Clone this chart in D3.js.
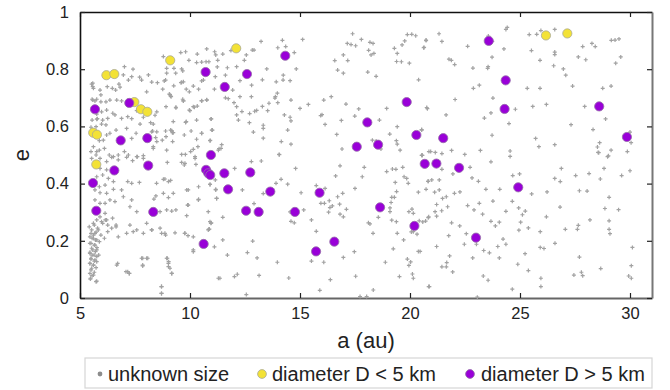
<!DOCTYPE html>
<html><head><meta charset="utf-8">
<script src="https://cdn.jsdelivr.net/npm/d3@7"></script>
<style>
html,body{margin:0;padding:0;background:#fff;}
svg{display:block;font-family:"Liberation Sans",Arial,sans-serif;}
</style></head>
<body>
<svg id="chart" width="670" height="390"></svg>
<script>
// ---- DATA ----
const xTicks = [5, 10, 15, 20, 25, 30];
const yTicks = [0, 0.2, 0.4, 0.6, 0.8, 1];
const xLabel = "a (au)";
const yLabel = "e";
const legendLabels = ["unknown size", "diameter D < 5 km", "diameter D > 5 km"];

// small bodies, diameter D < 5 km  [a, e]
const smallBodies = [
  [6.2,0.779],[6.56,0.783],[9.1,0.831],[7.47,0.685],[7.77,0.66],[8.06,0.651],
  [5.6,0.578],[5.77,0.571],[5.74,0.467],[12.1,0.873],[26.18,0.918],[27.15,0.925]
];

// large bodies, diameter D > 5 km  [a, e]
const largeBodies = [
  [5.68,0.66],[7.24,0.682],[6.85,0.551],[8.06,0.559],[10.71,0.79],[10.95,0.5],
  [5.59,0.402],[6.56,0.446],[8.1,0.463],[5.74,0.305],[8.33,0.301],[10.62,0.189],
  [10.73,0.448],[10.83,0.436],[10.92,0.43],[12.59,0.783],[14.33,0.847],[11.58,0.738],
  [19.85,0.685],[18.06,0.614],[20.29,0.57],[17.58,0.529],[18.55,0.536],[11.56,0.436],
  [12.74,0.439],[11.73,0.38],[13.65,0.372],[12.55,0.305],[13.12,0.301],[14.77,0.301],
  [15.89,0.368],[16.56,0.197],[15.73,0.163],[18.64,0.317],[20.2,0.252],[20.67,0.469],
  [23.58,0.899],[24.35,0.761],[24.3,0.661],[28.6,0.67],[29.86,0.563],[21.51,0.559],
  [21.2,0.47],[22.23,0.455],[24.92,0.387],[23.0,0.211]
];

// unknown size  [a, e]
const unknownSize = [
  // a 10-21, upper half
  [10.76,0.871],[11.12,0.861],[11.17,0.85],[11.49,0.853],[11.86,0.865],[12.83,0.867],[12.91,0.867],
  [13.23,0.897],[14.2,0.901],[14.35,0.879],[13.99,0.875],[14.74,0.858],[15.12,0.904],[10.53,0.825],
  [10.73,0.826],[10.86,0.826],[11.26,0.831],[12.47,0.831],[12.56,0.85],[11.24,0.808],[11.7,0.805],
  [12.12,0.809],[13.49,0.801],[14.83,0.801],[11.15,0.774],[11.61,0.779],[10.53,0.759],[10.61,0.762],
  [12.27,0.76],[13.29,0.763],[13.92,0.756],[14.23,0.762],[14.24,0.779],[14.55,0.76],[11.11,0.73],
  [11.94,0.727],[12.8,0.744],[10.53,0.69],[10.76,0.693],[11.61,0.7],[11.74,0.697],[12.27,0.704],
  [12.79,0.704],[13.97,0.716],[13.88,0.704],[13.86,0.699],[14.59,0.692],[12.0,0.683],[12.12,0.669],
  [12.36,0.652],[12.71,0.645],[12.94,0.653],[13.03,0.656],[13.29,0.67],[13.53,0.655],[13.59,0.681],
  [13.99,0.683],[14.29,0.64],[14.55,0.632],[15.0,0.663],[15.38,0.677],[12.12,0.64],[12.2,0.622],
  [12.7,0.613],[10.97,0.626],[11.02,0.587],[12.88,0.58],[13.33,0.604],[13.33,0.593],[14.44,0.587],
  [14.59,0.619],[10.53,0.576],[10.92,0.551],[11.44,0.536],[11.32,0.522],[13.33,0.559],[14.15,0.547],
  [14.59,0.538],[14.05,0.502],
  [17.39,0.924],[17.15,0.89],[17.32,0.886],[17.53,0.882],[17.79,0.904],[18.18,0.894],[18.32,0.89],
  [16.97,0.85],[17.17,0.83],[16.58,0.83],[16.71,0.797],[16.97,0.786],[18.12,0.866],[18.23,0.85],
  [18.36,0.855],[18.08,0.79],[18.46,0.775],[19.29,0.873],[19.42,0.855],[19.64,0.885],[19.76,0.899],
  [19.88,0.921],[20.08,0.922],[20.26,0.917],[20.73,0.902],[20.64,0.876],[19.39,0.827],[19.61,0.826],
  [19.97,0.821],[20.39,0.763],[20.76,0.666],[16.08,0.692],[16.42,0.704],[17.09,0.678],[17.67,0.661],
  [17.49,0.636],[18.61,0.622],[18.94,0.663],[16.0,0.641],[15.94,0.638],[16.14,0.607],[16.88,0.621],
  [16.67,0.572],[19.08,0.573],[19.42,0.599],[19.38,0.55],[19.42,0.538],[19.55,0.517],[16.91,0.521],
  [18.29,0.552],[18.46,0.549],[18.68,0.521],[20.53,0.587],[20.56,0.499],[20.86,0.512],
  // a 10-21, lower half
  [14.06,0.501],[12.79,0.477],[13.24,0.479],[12.03,0.453],[14.14,0.415],[13.91,0.401],[14.44,0.398],
  [14.8,0.453],[13.33,0.365],[12.38,0.378],[11.17,0.378],[11.21,0.348],[10.91,0.397],[12.91,0.33],
  [15.05,0.368],[14.55,0.301],[14.74,0.263],[14.59,0.268],[15.17,0.308],[15.52,0.273],[15.74,0.393],
  [15.95,0.331],[16.11,0.331],[16.3,0.3],[16.36,0.316],[16.47,0.322],[16.33,0.34],[16.14,0.383],
  [16.71,0.354],[16.8,0.328],[16.94,0.366],[17.11,0.31],[16.82,0.293],[16.97,0.284],[16.62,0.427],
  [16.82,0.462],[17.92,0.457],[17.83,0.424],[17.5,0.383],[18.56,0.282],[18.11,0.263],[18.18,0.259],
  [18.32,0.226],[15.74,0.233],[17.47,0.162],[16.97,0.142],[16.08,0.125],[15.52,0.129],[13.97,0.125],
  [13.05,0.14],[12.61,0.159],[12.85,0.199],[11.7,0.15],[11.49,0.203],[10.85,0.24],[10.97,0.263],
  [11.49,0.282],[11.36,0.069],[12.02,0.075],[12.15,0.083],[13.14,0.079],[14.49,0.07],[16.38,0.064],
  [15.9,0.027],[12.56,0.012],[17.53,0.076],[17.73,0.005],[18.03,0.005],[18.33,0.028],[18.88,0.125],
  [18.94,0.442],[19.2,0.451],[19.36,0.45],[19.67,0.457],[19.73,0.424],[19.85,0.418],[19.92,0.401],
  [19.33,0.404],[19.17,0.352],[19.29,0.352],[19.14,0.334],[19.39,0.372],[19.09,0.315],[19.09,0.302],
  [19.17,0.272],[19.38,0.267],[19.42,0.226],[19.24,0.172],[19.95,0.302],[20.09,0.311],[20.15,0.296],
  [20.06,0.231],[20.15,0.232],[20.32,0.223],[20.38,0.163],[20.46,0.163],[19.88,0.136],[20.03,0.126],
  [19.95,0.114],[19.71,0.203],[19.52,0.075],[20.11,0.084],[20.15,0.069],[20.85,0.04],[20.38,0.37],
  [20.83,0.408],[20.85,0.284],[20.71,0.269],[20.42,0.27],[20.53,0.499],
  // a 20-31, upper half
  [21.32,0.924],[20.73,0.9],[21.45,0.897],[20.62,0.875],[22.62,0.88],[21.77,0.835],[21.88,0.831],
  [22.03,0.816],[22.86,0.804],[23.56,0.916],[23.74,0.897],[24.27,0.871],[24.42,0.946],[24.36,0.939],
  [23.73,0.842],[23.55,0.809],[23.53,0.803],[22.88,0.733],[23.15,0.744],[22.05,0.694],[23.77,0.699],
  [23.68,0.647],[23.38,0.629],[20.79,0.662],[21.64,0.64],[20.53,0.589],[23.73,0.569],[24.5,0.61],
  [24.79,0.66],[25.42,0.921],[25.76,0.922],[25.95,0.935],[26.58,0.939],[25.52,0.865],[25.91,0.831],
  [26.58,0.86],[26.58,0.851],[26.53,0.812],[26.97,0.801],[27.08,0.779],[27.39,0.741],[27.65,0.843],
  [27.99,0.833],[27.85,0.879],[28.27,0.89],[28.42,0.879],[29.15,0.901],[29.32,0.902],[29.5,0.906],
  [29.58,0.843],[29.35,0.821],[28.76,0.733],[29.14,0.741],[25.33,0.733],[25.91,0.733],[25.58,0.67],
  [26.2,0.677],[27.94,0.67],[28.89,0.626],[27.32,0.606],[28.32,0.589],[25.71,0.558],[25.86,0.529],
  [26.58,0.536],[28.62,0.543],[28.52,0.528],[28.55,0.509],[29.14,0.517],[30.0,0.58],[30.05,0.543],
  [29.88,0.512],[28.98,0.494],[23.2,0.516],[22.49,0.502],[21.89,0.516],[21.45,0.505],[21.15,0.509],
  [20.94,0.512],[20.55,0.499],[24.55,0.514],[24.55,0.495],
  // a 20-31, lower half
  [28.58,0.508],[29.02,0.497],[21.45,0.45],[20.82,0.408],[20.99,0.413],[21.33,0.413],[21.95,0.434],
  [22.73,0.457],[23.68,0.476],[22.82,0.42],[23.11,0.408],[24.67,0.428],[24.98,0.434],[25.53,0.364],
  [26.58,0.418],[26.83,0.407],[26.88,0.453],[27.53,0.428],[28.14,0.435],[28.65,0.416],[28.82,0.453],
  [29.62,0.428],[30.0,0.445],[20.73,0.38],[21.12,0.37],[21.33,0.378],[21.65,0.354],[22.02,0.366],
  [22.27,0.371],[21.21,0.327],[21.48,0.348],[21.71,0.319],[21.44,0.305],[21.14,0.302],[21.21,0.286],
  [20.83,0.281],[20.58,0.266],[21.89,0.263],[22.26,0.252],[22.62,0.323],[22.91,0.308],[23.15,0.331],
  [23.3,0.293],[23.45,0.38],[23.68,0.268],[23.77,0.339],[23.88,0.252],[24.06,0.265],[24.08,0.38],
  [24.36,0.303],[24.65,0.338],[24.94,0.315],[25.03,0.265],[24.95,0.237],[25.24,0.304],[25.11,0.291],
  [25.38,0.245],[25.92,0.232],[26.2,0.284],[26.23,0.371],[26.82,0.318],[27.06,0.24],[27.61,0.24],
  [27.65,0.254],[27.7,0.375],[28.05,0.374],[28.18,0.273],[28.86,0.313],[29.05,0.352],[29.05,0.27],
  [29.05,0.24],[29.09,0.225],[29.48,0.309],[26.59,0.191],[25.92,0.177],[26.09,0.173],[25.23,0.155],
  [24.23,0.206],[24.36,0.188],[24.06,0.14],[23.99,0.18],[23.61,0.158],[23.35,0.166],[23.02,0.188],
  [22.85,0.14],[22.56,0.225],[22.47,0.188],[21.76,0.218],[21.8,0.147],[21.67,0.124],[21.65,0.109],
  [21.45,0.109],[21.21,0.18],[21.94,0.091],[20.88,0.04],[23.33,0.077],[23.55,0.062],[23.06,0.003],
  [24.9,0.118],[25.38,0.096],[25.95,0.069],[25.95,0.04],[24.65,0.031],[27.45,0.08],[27.7,0.143],
  [27.79,0.09],[27.85,0.078],[28.67,0.103],[29.94,0.077],[30.06,0.069],[30.06,0.113],[30.11,0.177],
  // a 5-11, upper half
  [8.79,0.844],[9.58,0.858],[9.8,0.861],[10.33,0.853],[9.95,0.831],[10.3,0.823],[9.62,0.801],
  [9.67,0.794],[8.89,0.762],[8.83,0.759],[9.26,0.742],[9.62,0.754],[9.83,0.73],[10.39,0.73],
  [9.09,0.711],[9.14,0.704],[9.7,0.689],[9.36,0.667],[9.97,0.657],[10.15,0.669],[10.33,0.671],
  [9.83,0.617],[10.3,0.622],[10.05,0.584],[10.36,0.529],[9.17,0.585],[9.24,0.578],[8.89,0.584],
  [8.91,0.564],[9.62,0.502],[9.79,0.502],[8.44,0.561],[8.21,0.613],[8.3,0.584],[8.41,0.639],
  [8.03,0.721],[8.11,0.78],[7.71,0.772],[7.8,0.762],[7.41,0.8],[7.35,0.774],[7.2,0.762],[7.02,0.809],
  [6.97,0.78],[6.77,0.748],[6.82,0.737],[6.62,0.727],[6.47,0.733],[6.24,0.739],[5.91,0.727],
  [5.95,0.71],[5.68,0.689],[5.58,0.692],[5.58,0.739],[5.53,0.748],[6.36,0.692],[6.67,0.692],
  [6.89,0.689],[6.21,0.657],[5.98,0.651],[5.76,0.643],[5.79,0.627],[5.98,0.608],[6.26,0.628],
  [6.49,0.646],[6.59,0.64],[6.89,0.628],[7.17,0.634],[7.35,0.627],[7.58,0.655],[7.73,0.608],
  [7.88,0.632],[8.33,0.529],[7.35,0.558],[7.55,0.576],[7.12,0.593],[6.64,0.587],[6.36,0.576],
  [6.21,0.57],[6.06,0.552],[5.88,0.55],[5.61,0.529],[5.5,0.512],[5.76,0.512],[6.52,0.494],
  [6.74,0.5],[7.02,0.512],[7.2,0.5],[7.58,0.494],[7.88,0.498],[8.91,0.669],[9.24,0.617],[9.67,0.695],
  [5.58,0.751],[5.61,0.733],[5.55,0.695],[5.76,0.695],[5.95,0.686],[6.18,0.686],[5.55,0.622],
  [5.76,0.625],[6.03,0.622],[5.5,0.597],[5.73,0.599],[6.18,0.605],[5.88,0.517],[6.11,0.523],
  [5.73,0.5],[6.33,0.5],
  [8.94,0.803],[9.27,0.803],[8.94,0.786],[9.35,0.786],[8.52,0.753],[8.26,0.755],[9.59,0.753],
  [9.7,0.756],[10.15,0.741],[9.97,0.721],[8.76,0.73],[9.06,0.713],[9.12,0.706],[9.7,0.689],
  [9.36,0.665],[10.0,0.655],[10.2,0.667],[10.53,0.689],[10.76,0.692],[10.95,0.626],[9.8,0.614],
  [8.49,0.651],[8.33,0.608],[8.26,0.581],[8.49,0.581],[9.12,0.587],[9.2,0.578],[9.74,0.57],
  [10.53,0.576],[10.99,0.587],[8.49,0.547],[8.74,0.552],[9.21,0.547],[10.3,0.555],[10.91,0.55],
  [8.33,0.523],[8.94,0.517],[10.03,0.512],[10.15,0.52],[11.29,0.517],[11.41,0.523],[10.23,0.494],
  // a 5-11, lower half
  [5.53,0.488],[5.91,0.488],[6.21,0.477],[6.44,0.492],[6.74,0.483],[7.12,0.492],[7.39,0.48],
  [7.61,0.494],[7.88,0.488],[9.77,0.471],[5.91,0.453],[6.21,0.448],[6.03,0.43],[5.76,0.424],
  [6.29,0.418],[6.52,0.407],[6.14,0.395],[5.88,0.389],[5.68,0.378],[5.91,0.368],[6.21,0.366],
  [6.52,0.38],[6.89,0.378],[7.17,0.407],[7.35,0.401],[7.7,0.404],[8.48,0.401],[8.79,0.415],
  [9.02,0.407],[5.68,0.343],[5.91,0.331],[6.14,0.331],[6.36,0.343],[6.59,0.337],[6.97,0.354],
  [7.35,0.343],[7.27,0.319],[7.58,0.302],[8.64,0.302],[8.94,0.308],[9.24,0.366],[9.85,0.378],
  [9.92,0.325],[10.38,0.343],[10.83,0.302],[10.91,0.267],[5.91,0.284],[6.14,0.296],[6.21,0.273],
  [5.98,0.267],[5.76,0.273],[5.61,0.261],[5.83,0.238],[5.53,0.238],[5.68,0.226],[5.45,0.214],
  [5.61,0.209],[5.76,0.203],[5.45,0.191],[5.68,0.185],[5.53,0.174],[5.76,0.168],[5.45,0.156],
  [5.64,0.15],[5.5,0.139],[5.68,0.133],[5.45,0.121],[5.61,0.115],[5.76,0.127],[5.53,0.104],
  [5.45,0.086],[5.61,0.08],[5.48,0.069],[5.73,0.057],[6.44,0.244],[6.64,0.255],[6.74,0.214],
  [7.12,0.226],[7.27,0.255],[7.42,0.232],[7.58,0.238],[7.88,0.226],[8.03,0.261],[8.26,0.238],
  [8.64,0.244],[8.86,0.226],[9.32,0.228],[9.77,0.226],[10.15,0.214],[10.15,0.168],[10.83,0.238],
  [6.67,0.115],[7.09,0.092],[7.24,0.086],[7.8,0.139],[8.03,0.139],[7.85,0.112],[8.94,0.139],
  [9.02,0.121],[9.09,0.104],[9.17,0.086],[8.71,0.04],[8.71,0.016],[11.29,0.069],
  [5.5,0.226],[5.61,0.22],[5.73,0.23],[5.55,0.209],[5.7,0.203],[5.5,0.191],[5.65,0.185],[5.77,0.176],
  [5.58,0.168],[5.45,0.16],[5.7,0.162],[5.55,0.15],[5.76,0.145],[5.5,0.136],[5.65,0.129],[5.45,0.121],
  [5.61,0.115],[5.73,0.106],[5.5,0.098],[5.65,0.09],[5.55,0.078],[5.47,0.066],[5.76,0.059],
  [5.88,0.197],[5.85,0.15],[5.42,0.249],[5.65,0.255],[5.8,0.244],[5.95,0.22],[6.11,0.209],
  [6.26,0.232],[6.03,0.261],[6.26,0.255],[6.15,0.273],[6.48,0.279],[6.64,0.249],[6.71,0.121],
  [7.17,0.092],[7.24,0.086],[7.85,0.139],[8.08,0.139],[7.85,0.115],
  [8.97,0.474],[9.62,0.474],[9.74,0.465],[10.23,0.488],[10.27,0.467],[8.86,0.416],[9.12,0.411],
  [8.79,0.366],[8.45,0.357],[8.36,0.346],[9.02,0.351],[9.92,0.378],[10.39,0.389],[10.39,0.345],
  [9.89,0.325],[9.17,0.304],[9.36,0.308],[9.85,0.288],[8.71,0.226],[8.89,0.22],[9.76,0.226],
  [9.91,0.218],[8.26,0.238],[10.15,0.162],[8.97,0.139],[9.03,0.127],[9.02,0.11],[9.17,0.086],
  [8.7,0.04],[8.7,0.016],[10.91,0.397],[11.15,0.413],[11.17,0.38],[11.21,0.348],[10.95,0.261],
  [10.88,0.241],[11.11,0.179]
];

// ---- LAYOUT ----
const svg = d3.select("#chart");
const x = d3.scaleLinear().domain([5, 31]).range([80, 652]);
const y = d3.scaleLinear().domain([0, 1]).range([298, 12]);

const tickFont = 16.5;

// axes
const gB = svg.append("g").attr("transform", `translate(0,${y(0)})`)
  .call(d3.axisBottom(x).tickValues(xTicks).tickFormat(d3.format("d")).tickSizeInner(-5).tickSizeOuter(0).tickPadding(9));
const gT = svg.append("g").attr("transform", `translate(0,${y(1)})`)
  .call(d3.axisTop(x).tickValues(xTicks).tickFormat("").tickSizeInner(-5).tickSizeOuter(0));
const gL = svg.append("g").attr("transform", `translate(${x(5)},0)`)
  .call(d3.axisLeft(y).tickValues(yTicks).tickFormat(d => d === 0 || d === 1 ? String(d) : d3.format(".1f")(d)).tickSizeInner(-5).tickSizeOuter(0).tickPadding(11));
const gR = svg.append("g").attr("transform", `translate(${x(31)},0)`)
  .call(d3.axisRight(y).tickValues(yTicks).tickFormat("").tickSizeInner(-5).tickSizeOuter(0));

[gB, gT, gL, gR].forEach(g => {
  g.selectAll("text").attr("font-size", tickFont).attr("fill", "#222")
    .attr("font-family", "'Liberation Sans', Arial, sans-serif");
});
gL.select(".domain").attr("stroke", "#111").attr("stroke-width", 1.6);
gT.select(".domain").attr("stroke", "#111").attr("stroke-width", 1.6);
gB.select(".domain").attr("stroke", "#666").attr("stroke-width", 2);
gR.select(".domain").attr("stroke", "#777").attr("stroke-width", 2);
[gB, gT, gL, gR].forEach(g => g.selectAll(".tick line").attr("stroke", "#222").attr("stroke-width", 1.2));

// axis titles
svg.append("text").attr("x", (x(5) + x(31)) / 2).attr("y", 348)
  .attr("text-anchor", "middle").attr("font-size", 22).attr("fill", "#222").text(xLabel);
svg.append("text").attr("transform", `translate(29,${(y(0) + y(1)) / 2}) rotate(-90)`)
  .attr("text-anchor", "middle").attr("font-size", 22).attr("fill", "#222").text(yLabel);

// points
const plot = svg.append("g");
const cross = "M-2,0H2M0,-2V2";
plot.selectAll("path.unk").data(unknownSize).join("path")
  .attr("class", "unk")
  .attr("transform", d => `translate(${x(d[0])},${y(d[1])})`)
  .attr("d", cross).attr("stroke", "#a2a2a2").attr("stroke-width", 1.2).attr("fill", "none");

plot.selectAll("circle.small").data(smallBodies).join("circle")
  .attr("class", "small")
  .attr("cx", d => x(d[0])).attr("cy", d => y(d[1])).attr("r", 4.6)
  .attr("fill", "#f3e236").attr("stroke", "rgba(170,170,150,0.8)").attr("stroke-width", 1);

plot.selectAll("circle.large").data(largeBodies).join("circle")
  .attr("class", "large")
  .attr("cx", d => x(d[0])).attr("cy", d => y(d[1])).attr("r", 4.6)
  .attr("fill", "#9900d8").attr("stroke", "rgba(150,110,170,0.85)").attr("stroke-width", 1);

// legend
const lg = svg.append("g");
lg.append("rect").attr("x", 85).attr("y", 358).attr("width", 567).attr("height", 30)
  .attr("fill", "#fff").attr("stroke", "#d6d6d6").attr("stroke-width", 1.2);
const legendItems = [
  {label: legendLabels[0], mx: 100, tx: 108, type: "u"},
  {label: legendLabels[1], mx: 262, tx: 272, type: "s"},
  {label: legendLabels[2], mx: 470, tx: 481, type: "l"}
];
legendItems.forEach(it => {
  if (it.type === "u") {
    lg.append("circle").attr("cx", it.mx).attr("cy", 374).attr("r", 2.4).attr("fill", "#8c8c8c");
  } else {
    lg.append("circle").attr("cx", it.mx).attr("cy", 374).attr("r", 4.4)
      .attr("fill", it.type === "s" ? "#f3e236" : "#9900d8")
      .attr("stroke", it.type === "s" ? "rgba(170,170,150,0.8)" : "rgba(150,110,170,0.85)").attr("stroke-width", 1);
  }
  lg.append("text").attr("x", it.tx).attr("y", 381).attr("font-size", 20).attr("fill", "#222").text(it.label);
});
</script>
</body></html>
